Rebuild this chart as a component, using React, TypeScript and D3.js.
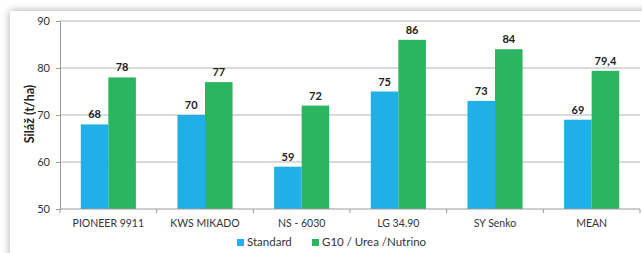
import * as d3 from "d3"
import { useEffect, useRef } from "react"

const categories = ["PIONEER 9911", "KWS MIKADO", "NS - 6030", "LG 34.90", "SY Senko", "MEAN"]
const standard = [68, 70, 59, 75, 73, 69]
const g10 = [78, 77, 72, 86, 84, 79.4]
const seriesNames = ["Standard", "G10 / Urea /Nutrino"]
const yTicks = [50, 60, 70, 80, 90]

const colors = ["#1eb0e6", "#2bb55f"]
const font = "Lato, 'Open Sans', sans-serif"

const App = () => {
  const svgRef = useRef<SVGSVGElement | null>(null)

  useEffect(() => {
    if (!svgRef.current) return
    const width = 642
    const height = 253
    const svg = d3.select(svgRef.current)
    svg.selectAll("*").remove()

    // panel shadow
    const defs = svg.append("defs")
    const f = defs.append("filter").attr("id", "sh").attr("x", "-10%").attr("y", "-10%").attr("width", "120%").attr("height", "120%")
    f.append("feGaussianBlur").attr("in", "SourceAlpha").attr("stdDeviation", 4)
    f.append("feOffset").attr("dx", 0).attr("dy", 0).attr("result", "b")
    f.append("feComponentTransfer").append("feFuncA").attr("type", "linear").attr("slope", 0.35)
    const m = f.append("feMerge")
    m.append("feMergeNode")
    m.append("feMergeNode").attr("in", "SourceGraphic")

    svg.append("rect").attr("width", width).attr("height", height).attr("fill", "#fff")
    svg.append("rect")
      .attr("x", 10).attr("y", 11).attr("width", width + 40).attr("height", height + 40)
      .attr("fill", "#fff").attr("filter", "url(#sh)")

    const margin = { left: 60, right: 2, top: 21, bottom: 44 }
    const x0 = d3.scaleBand().domain(categories).range([margin.left, width - margin.right]).paddingInner(0.43).paddingOuter(0.215)
    const x1 = d3.scaleBand().domain(seriesNames).range([0, x0.bandwidth()])
    const y = d3.scaleLinear().domain([50, 90]).range([height - margin.bottom, margin.top])

    // grid
    svg.append("g").selectAll("line").data(yTicks.slice(1)).enter().append("line")
      .attr("x1", margin.left).attr("x2", width - margin.right)
      .attr("y1", d => y(d)).attr("y2", d => y(d))
      .attr("stroke", "#b4b4b4").attr("stroke-width", 1)

    // y axis
    const yAxis = svg.append("g").attr("transform", `translate(${margin.left},0)`)
      .call(d3.axisLeft(y).tickValues(yTicks).tickSize(4).tickPadding(6))
    yAxis.select(".domain").attr("stroke", "#9a9a9a")
    yAxis.selectAll(".tick line").attr("stroke", "#9a9a9a")
    yAxis.selectAll("text").attr("font-family", font).attr("font-size", 11).attr("fill", "#333")

    // bars
    const data = categories.map((c, i) => ({ c, vals: [standard[i], g10[i]] }))
    const groups = svg.append("g").selectAll("g").data(data).enter().append("g")
      .attr("transform", d => `translate(${x0(d.c)},0)`)
    groups.selectAll("rect").data(d => d.vals.map((v, j) => ({ v, j }))).enter().append("rect")
      .attr("x", d => x1(seriesNames[d.j])!)
      .attr("width", x1.bandwidth())
      .attr("y", d => y(d.v))
      .attr("height", d => y(50) - y(d.v))
      .attr("fill", d => colors[d.j])
    groups.selectAll("text").data(d => d.vals.map((v, j) => ({ v, j }))).enter().append("text")
      .attr("x", d => x1(seriesNames[d.j])! + x1.bandwidth() / 2)
      .attr("y", d => y(d.v) - 6)
      .attr("text-anchor", "middle")
      .attr("font-family", font).attr("font-size", 11).attr("font-weight", "bold").attr("fill", "#222")
      .text(d => String(d.v).replace(".", ","))

    // x axis
    const xAxis = svg.append("g").attr("transform", `translate(0,${y(50)})`)
    const xs = d3.scaleLinear().domain([0, categories.length]).range([margin.left, width - margin.right])
    xAxis.append("line").attr("x1", margin.left).attr("x2", width - margin.right).attr("stroke", "#9a9a9a")
    xAxis.selectAll(".tk").data(d3.range(categories.length + 1)).enter().append("line")
      .attr("x1", d => xs(d)).attr("x2", d => xs(d)).attr("y1", 0).attr("y2", 4).attr("stroke", "#9a9a9a")
    xAxis.selectAll("text").data(categories).enter().append("text")
      .attr("x", d => x0(d)! + x0.bandwidth() / 2).attr("y", 18)
      .attr("text-anchor", "middle")
      .attr("font-family", font).attr("font-size", 10.5).attr("fill", "#333")
      .text(d => d)

    // y label
    svg.append("text")
      .attr("transform", `translate(34,${(y(50) + y(90)) / 2 - 1}) rotate(-90)`)
      .attr("text-anchor", "middle")
      .attr("font-family", font).attr("font-size", 12.5).attr("font-weight", "bold").attr("fill", "#222")
      .text("Siláž (t/ha)")

    // legend
    const legendX = [237, 312]
    const lg = svg.append("g").selectAll("g").data(seriesNames).enter().append("g")
      .attr("transform", (_d, i) => `translate(${legendX[i]},246)`)
    lg.append("rect").attr("x", 0).attr("y", -7).attr("width", 7).attr("height", 7).attr("fill", (_d, i) => colors[i])
    lg.append("text").attr("x", 10).attr("y", 0)
      .attr("font-family", font).attr("font-size", 11.5).attr("fill", "#333")
      .text(d => d)
  }, [])

  return (
    <div style={{ position: "absolute", left: 0, top: 0 }}>
      <svg ref={svgRef} width={642} height={253} style={{ display: "block" }} />
    </div>
  )
}

export default App
